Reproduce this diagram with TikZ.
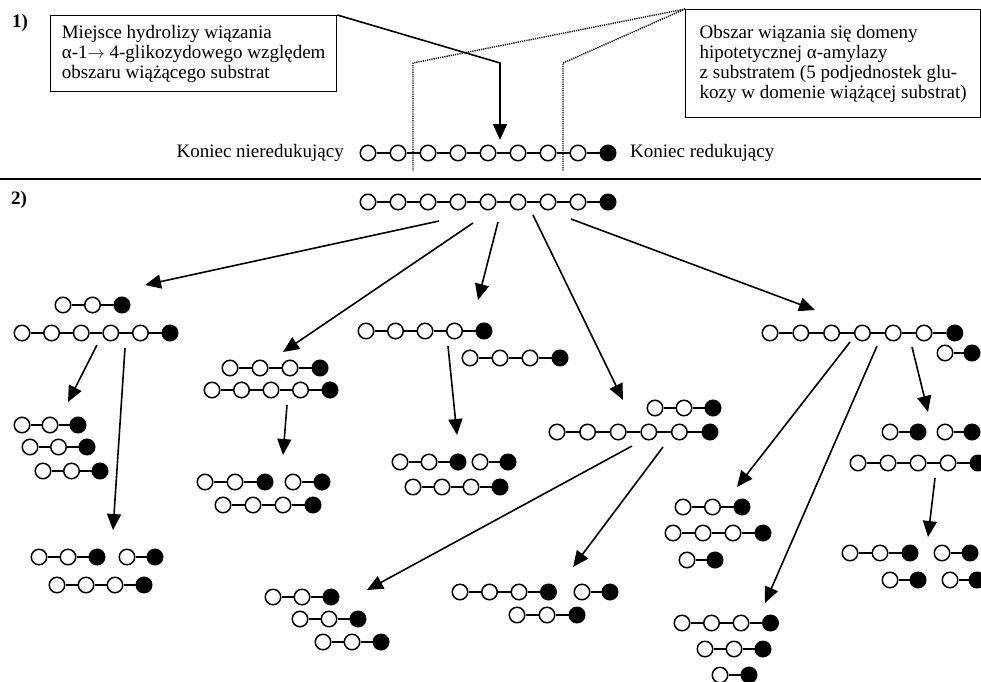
\documentclass[tikz,border=0pt]{standalone}
\usepackage{fontspec}
\setmainfont{Liberation Serif}
\usetikzlibrary{arrows.meta}

\tikzset{
  glcwhite/.style={circle,draw,line width=1.5pt,fill=white,minimum size=15.5pt,inner sep=0pt},
  glcblack/.style={glcwhite,fill=black},
  bond/.style={line width=1.4pt},
  split/.style={line width=1.6pt,-{Triangle[length=16pt,width=14pt]}},
  infobox/.style={draw,line width=1.3pt,align=left,font=\fontsize{19}{20}\selectfont,inner sep=0pt},
  bindline/.style={line width=1.4pt,dash pattern=on 1.2pt off 1pt},
  endlabel/.style={font=\fontsize{19}{20}\selectfont,inner sep=0pt},
  partlabel/.style={font=\fontsize{19}{20}\selectfont\bfseries,inner sep=0pt},
}

% glucose chain: name, first x, y, number of units, spacing (last unit = reducing end)
\newcommand\glchain[5]{%
  \foreach \k in {1,...,#4}{%
    \ifnum\k=#4\relax
      \node[glcblack] (#1-\k) at ({#2+(\k-1)*#5},#3) {};
    \else
      \node[glcwhite] (#1-\k) at ({#2+(\k-1)*#5},#3) {};
    \fi
  }%
  \foreach \k [remember=\k as \p (initially 1)] in {2,...,#4}{%
    \draw[bond] (#1-\p) -- (#1-\k);
  }%
}

\begin{document}
\begin{tikzpicture}[x=1pt,y=-1pt]
\useasboundingbox (0,0) rectangle (981,681);

% ---------- part 1 ----------
\node[partlabel] (p1) at (20,23) {1)};
\node[infobox,anchor=north west,minimum width=286pt,minimum height=76pt] (box1) at (50,15)
  {Miejsce hydrolizy wiązania\\α-1\ensuremath{\rightarrow} 4-glikozydowego względem\\obszaru wiążącego substrat};
\node[infobox,anchor=north west,minimum width=295pt,minimum height=108pt] (box2) at (685,9)
  {Obszar wiązania się domeny\\hipotetycznej α-amylazy\\z substratem (5 podjednostek glu-\\kozy w domenie wiążącej substrat)};

\glchain{T}{368}{153}{9}{30}
\node[endlabel,anchor=east] (nonred) at (344,153) {Koniec nieredukujący};
\node[endlabel,anchor=west] (red) at (630,153) {Koniec redukujący};

% binding region of the enzyme
\coordinate (bl1) at (413,63);
\coordinate (bl2) at (413,171);
\coordinate (br1) at (563,63);
\coordinate (br2) at (563,171);
\draw[bindline] (box2.north west) -- (bl1) -- (bl2);
\draw[bindline] (box2.north west) -- (br1) -- (br2);

% hydrolysis site
\coordinate (cut1) at (500,63);
\coordinate (cut2) at (500,140);
\draw[split] (box1.north east) -- (cut1) -- (cut2);

% separator
\coordinate (divL) at (0,179);
\coordinate (divR) at (981,179);
\draw[line width=1.6pt] (divL) -- (divR);

% ---------- part 2 ----------
\node[partlabel] (p2) at (19,200) {2)};
\glchain{S}{368}{202}{9}{30}

\glchain{A1}{63}{305}{3}{29.5}
\glchain{A2}{22}{333}{6}{29.6}
\glchain{B1}{230}{368}{4}{30}
\glchain{B2}{212}{390}{5}{29.5}
\glchain{F1}{366}{331}{5}{29.5}
\glchain{F2}{470}{358}{4}{30}
\glchain{K1}{655}{408}{3}{29}
\glchain{K2}{557}{432}{6}{30.6}
\glchain{H1}{770}{333}{7}{30.8}
\glchain{H2}{945}{353}{2}{27}

\glchain{D1}{22}{425}{3}{28}
\glchain{D2}{30}{447}{3}{28.5}
\glchain{D3}{43}{471}{3}{28.5}
\glchain{E1a}{39}{557}{3}{29}
\glchain{E1b}{127}{557}{2}{28}
\glchain{E2}{57}{585}{4}{29}

\glchain{C1a}{205}{482}{3}{30}
\glchain{C1b}{293}{482}{2}{29}
\glchain{C2}{223}{505}{4}{30}

\glchain{G1a}{400}{462}{3}{29}
\glchain{G1b}{480}{462}{2}{28}
\glchain{G2}{413}{487}{4}{29}

\glchain{I1a}{890}{432}{2}{28}
\glchain{I1b}{945}{432}{2}{27}
\glchain{I2}{858}{463}{5}{30}
\glchain{J1a}{850}{553}{3}{30}
\glchain{J1b}{942}{553}{2}{28}
\glchain{J2a}{890}{580}{2}{28}
\glchain{J2b}{950}{580}{2}{27}

\glchain{L1}{273}{597}{3}{29}
\glchain{L2}{300}{619}{3}{29}
\glchain{L3}{323}{642}{3}{29}
\glchain{M1a}{460}{592}{4}{29.5}
\glchain{M1b}{582}{592}{2}{28}
\glchain{M2}{517}{615}{3}{30}

\glchain{N1}{683}{507}{3}{29.5}
\glchain{N2}{673}{533}{4}{30}
\glchain{N3}{687}{560}{2}{28}
\glchain{P1}{682}{623}{4}{29.5}
\glchain{P2}{705}{649}{3}{29}
\glchain{P3}{720}{675}{2}{29}

% cleavage arrows
\coordinate (s1) at (439,221);  \coordinate (t1) at (145,285);
\coordinate (s2) at (473,223);  \coordinate (t2) at (283,352);
\coordinate (s3) at (498,222);  \coordinate (t3) at (478,300);
\coordinate (s4) at (533,215);  \coordinate (t4) at (623,400);
\coordinate (s5) at (571,219);  \coordinate (t5) at (815,310);
\coordinate (s6) at (97,345);   \coordinate (t6) at (68,402);
\coordinate (s7) at (125,348);  \coordinate (t7) at (113,530);
\coordinate (s8) at (287,405);  \coordinate (t8) at (283,455);
\coordinate (s9) at (448,346);  \coordinate (t9) at (457,435);
\coordinate (s10) at (632,446); \coordinate (t10) at (367,590);
\coordinate (s11) at (663,447); \coordinate (t11) at (573,567);
\coordinate (s12) at (850,342); \coordinate (t12) at (737,487);
\coordinate (s13) at (877,346); \coordinate (t13) at (765,603);
\coordinate (s14) at (912,347); \coordinate (t14) at (928,412);
\coordinate (s15) at (935,478); \coordinate (t15) at (928,537);
\foreach \i in {1,...,15}{\draw[split] (s\i) -- (t\i);}
\end{tikzpicture}
\end{document}
